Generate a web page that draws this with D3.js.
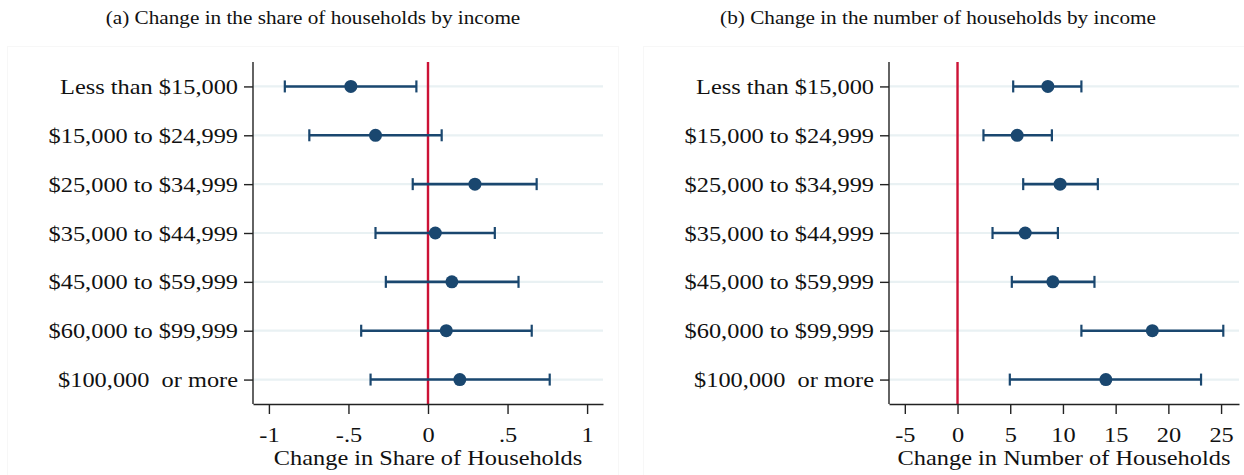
<!DOCTYPE html>
<html>
<head>
<meta charset="utf-8">
<script src="https://cdn.jsdelivr.net/npm/d3@7"></script>
<style>
  body { margin: 0; background: #fff; }
  text { font-family: "Liberation Serif", "Times New Roman", serif; fill: #111; white-space: pre; }
</style>
</head>
<body>
<div class="vis"></div>
<script>
// income groups (top to bottom)
const categories = [
  "Less than $15,000",
  "$15,000 to $24,999",
  "$25,000 to $34,999",
  "$35,000 to $44,999",
  "$45,000 to $59,999",
  "$60,000 to $99,999",
  "$100,000  or more"
];

// (a) change in share of households
const shareEst = [-0.485, -0.33, 0.295, 0.046, 0.15, 0.115, 0.2];
const shareLo  = [-0.90, -0.746, -0.096, -0.33, -0.265, -0.42, -0.361];
const shareHi  = [-0.073, 0.086, 0.683, 0.42, 0.569, 0.652, 0.765];
const shareTicks = [-1, -0.5, 0, 0.5, 1];

// (b) change in number of households
const numEst = [8.57, 5.66, 9.73, 6.42, 9.04, 18.48, 14.07];
const numLo  = [5.28, 2.46, 6.23, 3.32, 5.15, 11.75, 4.96];
const numHi  = [11.75, 8.95, 13.31, 9.52, 12.99, 25.21, 23.1];
const numTicks = [-5, 0, 5, 10, 15, 20, 25];

const W = 1244, H = 475;
const sx = 1.16; // the source image is stretched horizontally
const navy = "#1a476f";
const red = "#cc1236";

const svg = d3.select(".vis").append("svg")
  .attr("width", W).attr("height", H);

const y = d3.scalePoint().domain(categories).range([62, 404]).padding(0.5);

// stata style: hyphen minus, no leading zero
const fmtShare = (d) => String(d).replace("0.", ".");
const fmtNum = (d) => String(d);

const panels = [
  { title: "(a) Change in the share of households by income", titleX: 313,
    xLabel: "Change in Share of Households", left: 253, right: 603,
    domain: [-1.1, 1.1], ticks: shareTicks, fmt: fmtShare,
    est: shareEst, lo: shareLo, hi: shareHi, bg: [7.5, 46.5, 611, 440] },
  { title: "(b) Change in the number of households by income", titleX: 938,
    xLabel: "Change in Number of Households", left: 889, right: 1239,
    domain: [-6.5, 26.7], ticks: numTicks, fmt: fmtNum,
    est: numEst, lo: numLo, hi: numHi, bg: [643.5, 46.5, 620, 440] }
];

panels.forEach((p) => {
  const x = d3.scaleLinear().domain(p.domain).range([p.left, p.right]);
  const g = svg.append("g");

  // faint graph-region outline
  g.append("rect")
    .attr("x", p.bg[0]).attr("y", p.bg[1])
    .attr("width", p.bg[2]).attr("height", p.bg[3])
    .attr("fill", "none")
    .attr("stroke", "#f7f7f7");

  // title
  g.append("text")
    .attr("transform", `translate(${p.titleX},24) scale(${sx},1)`)
    .attr("text-anchor", "middle")
    .style("font-size", "18.3px")
    .text(p.title);

  // gridlines
  g.selectAll(".grid")
    .data(categories)
    .enter()
    .append("line")
    .attr("x1", p.left).attr("x2", p.right)
    .attr("y1", (d) => y(d)).attr("y2", (d) => y(d))
    .attr("stroke", "#e9f1f3")
    .attr("stroke-width", 2.2);

  // zero line
  g.append("line")
    .attr("x1", x(0)).attr("x2", x(0))
    .attr("y1", 62).attr("y2", 404)
    .attr("stroke", red)
    .attr("stroke-width", 2.4);

  // x axis
  const xAxis = g.append("g")
    .attr("transform", "translate(0,404)")
    .call(d3.axisBottom(x).tickValues(p.ticks).tickFormat(p.fmt).tickSize(10).tickSizeOuter(0));
  xAxis.select(".domain").attr("stroke", "#222").attr("stroke-width", 1.4);
  xAxis.selectAll(".tick line").attr("stroke", "#222").attr("stroke-width", 1.4);
  xAxis.selectAll(".tick text")
    .attr("y", 38).attr("dy", 0)
    .attr("transform", `scale(${sx},1)`)
    .style("font-size", "21px")
    .attr("fill", "#111");

  // y axis
  const yAxis = g.append("g")
    .attr("transform", `translate(${p.left},0)`)
    .call(d3.axisLeft(y).tickSize(9).tickSizeOuter(0));
  yAxis.select(".domain")
    .attr("d", "M0,62V404")
    .attr("stroke", "#222").attr("stroke-width", 1.4);
  yAxis.selectAll(".tick line").attr("stroke", "#222").attr("stroke-width", 1.4);
  yAxis.selectAll(".tick text")
    .attr("x", -15 / sx).attr("dy", "0.34em")
    .attr("transform", `scale(${sx},1)`)
    .style("font-size", "21px")
    .attr("fill", "#111");

  // x axis title
  g.append("text")
    .attr("transform", `translate(${(p.left + p.right) / 2},465) scale(${sx},1)`)
    .attr("text-anchor", "middle")
    .style("font-size", "21px")
    .text(p.xLabel);

  // confidence intervals
  const rows = categories.map((c, i) => ({ c, est: p.est[i], lo: p.lo[i], hi: p.hi[i] }));

  g.selectAll(".ci")
    .data(rows)
    .enter()
    .append("line")
    .attr("x1", (d) => x(d.lo)).attr("x2", (d) => x(d.hi))
    .attr("y1", (d) => y(d.c)).attr("y2", (d) => y(d.c))
    .attr("stroke", navy).attr("stroke-width", 2.6);

  ["lo", "hi"].forEach((k) => {
    g.selectAll(".cap-" + k)
      .data(rows)
      .enter()
      .append("line")
      .attr("x1", (d) => x(d[k])).attr("x2", (d) => x(d[k]))
      .attr("y1", (d) => y(d.c) - 6).attr("y2", (d) => y(d.c) + 6)
      .attr("stroke", navy).attr("stroke-width", 2.2);
  });

  g.selectAll(".dot")
    .data(rows)
    .enter()
    .append("circle")
    .attr("cx", (d) => x(d.est))
    .attr("cy", (d) => y(d.c))
    .attr("r", 6.5)
    .attr("fill", navy);
});
</script>
</body>
</html>
